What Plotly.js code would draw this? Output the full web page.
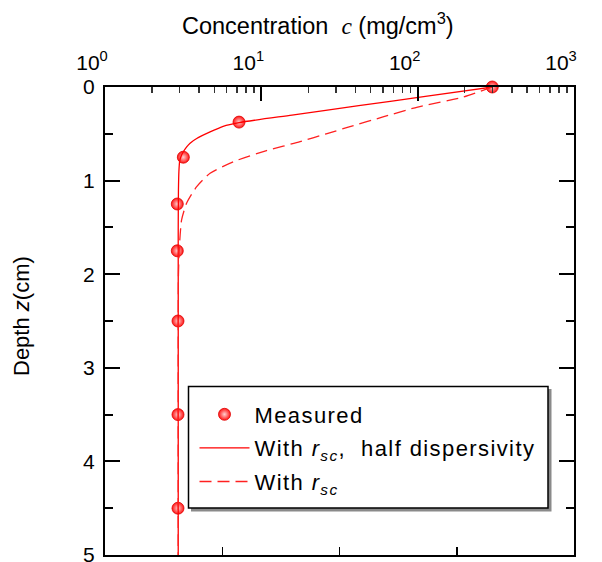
<!DOCTYPE html>
<html>
<head>
<meta charset="utf-8">
<script src="https://cdn.plot.ly/plotly-3.0.1.min.js"></script>
<style>
  html, body { margin: 0; padding: 0; background: #fff; }
  #chart { width: 602px; height: 562px; }
  .legendtext { letter-spacing: 1.4px; }
</style>
</head>
<body>
<div id="chart"></div>
<script>
// ---- data ----
var measuredC = [300, 7.2, 3.17, 2.9, 2.9, 2.93, 2.93, 2.93];
var measuredZ = [0, 0.375, 0.75, 1.25, 1.75, 2.5, 3.5, 4.5];

var halfDispZ = [0, 0.1, 0.2, 0.3, 0.38, 0.42, 0.48, 0.55, 0.6, 0.64, 0.7, 0.75, 0.8, 0.9, 1.1, 1.5, 2.0, 3.0, 4.0, 5.0];
var halfDispC = [300, 112, 42, 15.7, 7.2, 5.7, 4.7, 3.86, 3.5, 3.33, 3.15, 3.05, 3.0, 2.97, 2.95, 2.94, 2.94, 2.94, 2.94, 2.94];

var rscZ = [0, 0.107, 0.214, 0.32, 0.424, 0.5, 0.584, 0.68, 0.798, 0.922, 1.065, 1.24, 1.42, 1.71, 2.0, 3.0, 4.0, 5.0];
var rscC = [300, 196, 100, 60, 36.9, 26, 17.7, 10.8, 6.62, 4.7, 3.86, 3.33, 3.09, 2.99, 2.95, 2.94, 2.94, 2.94];

var xTickVals = [1, 10, 100, 1000];
var xTickText = ['10<sup>0</sup>', '10<sup>1</sup>', '10<sup>2</sup>', '10<sup>3</sup>'];
var xMinorVals = [];
[1, 10, 100].forEach(function (d) { for (var k = 2; k <= 9; k++) xMinorVals.push(k * d); });
var yTickVals = [0, 1, 2, 3, 4, 5];

var seriesNames = ['Measured', 'With <i>r</i><sub><i>sc</i></sub>,&nbsp; half dispersivity', 'With <i>r</i><sub><i>sc</i></sub>'];

var FONT = 'Liberation Sans, Arial, Helvetica, sans-serif';

var traces = [
  {
    x: measuredC, y: measuredZ, name: seriesNames[0], legendgroup: 'g1',
    type: 'scatter', mode: 'markers', cliponaxis: false,
    marker: { size: 12, color: '#ff1414', line: { color: '#e00000', width: 0.8 },
              gradient: { type: 'radial', color: '#ffd0d0' } }
  },
  {
    x: halfDispC, y: halfDispZ, name: seriesNames[1], legendgroup: 'g2',
    type: 'scatter', mode: 'lines',
    line: { color: '#ff0000', width: 1.3, shape: 'spline', smoothing: 0.6 }
  },
  {
    x: rscC, y: rscZ, name: seriesNames[2], legendgroup: 'g3',
    type: 'scatter', mode: 'lines',
    line: { color: '#ff2020', width: 1.3, dash: '12px,6px', shape: 'spline', smoothing: 0.6 }
  },
  {
    x: [], y: [], xaxis: 'x2', yaxis: 'y', showlegend: false, hoverinfo: 'skip',
    type: 'scatter', mode: 'lines'
  }
];

var L = 105, R = 574, T = 87, B = 555;
function px(x) { return (x - L) / (R - L); }
function py(y) { return (B - y) / (B - T); }

var layout = {
  width: 602, height: 562,
  margin: { l: L, r: 602 - R, t: T, b: 562 - B },
  paper_bgcolor: '#fff', plot_bgcolor: '#fff',
  font: { family: FONT, size: 21, color: '#000' },
  showlegend: true,
  xaxis: {
    type: 'log', range: [0, 3], side: 'top', anchor: 'y',
    tickmode: 'array', tickvals: xTickVals, ticktext: xTickText,
    ticks: 'inside', ticklen: 14, tickwidth: 2, tickcolor: '#000',
    minor: { tickmode: 'array', tickvals: xMinorVals, ticks: 'inside', ticklen: 6, tickwidth: 1.5, tickcolor: '#333' },
    showline: true, linecolor: '#000', linewidth: 2, mirror: false,
    showgrid: false, zeroline: false,
    tickfont: { size: 21 }, ticklabelstandoff: 7, ticklabelshift: -13
  },
  xaxis2: {
    overlaying: 'x', side: 'bottom', anchor: 'y', range: [0, 4],
    tickmode: 'linear', tick0: 0, dtick: 1,
    ticks: 'inside', ticklen: 8, tickwidth: 1.5, tickcolor: '#000',
    showticklabels: false, showline: true, linecolor: '#000', linewidth: 2,
    showgrid: false, zeroline: false, fixedrange: true
  },
  yaxis: {
    range: [5, 0], tickmode: 'array', tickvals: yTickVals,
    ticks: 'inside', ticklen: 15, tickwidth: 2, tickcolor: '#000',
    minor: { tickmode: 'linear', tick0: 0, dtick: 0.5, ticks: 'inside', ticklen: 8, tickwidth: 2, tickcolor: '#000' },
    showline: true, linecolor: '#000', linewidth: 2, mirror: 'ticks',
    showgrid: false, zeroline: false, ticklabeloverflow: 'allow',
    tickfont: { size: 21 }, ticklabelstandoff: 4
  },
  legend: {
    x: px(194.5), y: py(393.5), xanchor: 'left', yanchor: 'top',
    bgcolor: 'rgba(0,0,0,0)', borderwidth: 0,
    font: { family: FONT, size: 22, color: '#000' },
    itemwidth: 50, tracegroupgap: 2
  },
  shapes: [
    { type: 'rect', xref: 'paper', yref: 'paper', layer: 'above',
      x0: px(191), x1: px(551.5), y0: py(511.5), y1: py(389),
      fillcolor: '#8a8a8a', line: { width: 0 } },
    { type: 'rect', xref: 'paper', yref: 'paper', layer: 'above',
      x0: px(188.5), x1: px(548), y0: py(508), y1: py(386.5),
      fillcolor: '#ffffff', line: { color: '#000', width: 1.5 } }
  ],
  annotations: [
    { xref: 'paper', yref: 'paper', x: px(318), y: py(24), xanchor: 'center', yanchor: 'middle',
      showarrow: false, font: { family: FONT, size: 23.5, color: '#000' },
      text: 'Concentration&nbsp;&nbsp;<span style="font-family:Liberation Serif,serif;font-style:italic">c</span> (mg/cm<sup>3</sup>)' },
    { xref: 'paper', yref: 'paper', x: px(21), y: py(316), xanchor: 'center', yanchor: 'middle',
      textangle: -90, showarrow: false, font: { family: FONT, size: 22, color: '#000' },
      text: 'Depth&nbsp;<i>z</i>(cm)' }
  ]
};

Plotly.newPlot('chart', traces, layout, { displayModeBar: false, staticPlot: true });
</script>
</body>
</html>
